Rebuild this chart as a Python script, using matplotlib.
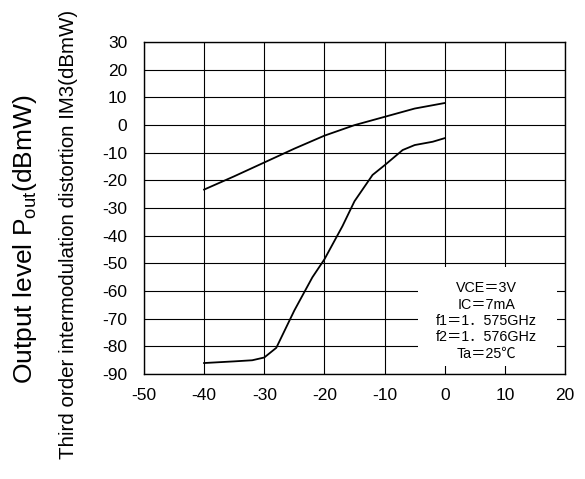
import matplotlib
matplotlib.use("Agg")
import matplotlib.pyplot as plt
from matplotlib.patches import Rectangle

plt.rcParams['font.family'] = ['Liberation Sans', 'DejaVu Sans']
plt.rcParams['axes.unicode_minus'] = False

# Data
pout_x = [-40, -35, -30, -25, -20, -15, -10, -5, 0]
pout_y = [-23.3, -18.5, -13.5, -8.5, -3.8, 0.0, 3.0, 6.0, 8.0]

im3_x = [-40, -35, -32, -30, -28, -25, -22, -20, -17, -15, -12, -10, -7, -5, -2, 0]
im3_y = [-86.0, -85.4, -85.0, -84.0, -80.5, -67.0, -55.0, -48.5, -36.5, -27.5,
         -18.0, -14.5, -9.0, -7.2, -6.0, -4.7]

x_ticks = [-50, -40, -30, -20, -10, 0, 10, 20]
y_ticks = [30, 20, 10, 0, -10, -20, -30, -40, -50, -60, -70, -80, -90]

note_lines = ["VCE＝3V", "IC＝7mA", "f1＝1．575GHz", "f2＝1．576GHz", "Ta＝25℃"]

fig = plt.figure(figsize=(5.85, 4.79), dpi=100)
ax = fig.add_axes([0.246, 0.219, 0.720, 0.693])
ax.set_xlim(-50, 20)
ax.set_ylim(-90, 30)
ax.set_xticks(x_ticks)
ax.set_yticks(y_ticks)
ax.grid(True, color='black', linewidth=0.8)
ax.set_axisbelow(True)
for s in ax.spines.values():
    s.set_linewidth(1.0)
ax.tick_params(length=0, labelsize=12.5)
ax.tick_params(axis='y', pad=12)
ax.tick_params(axis='x', pad=10)

ax.plot(pout_x, pout_y, color='black', linewidth=1.3, zorder=3)
ax.plot(im3_x, im3_y, color='black', linewidth=1.3, zorder=3)

# white box for conditions
ax.add_patch(Rectangle((-4.4, -87.2), 23.1, 36.0, facecolor='white',
                       edgecolor='none', zorder=2))
ax.text(6.9, -70.8, "\n".join(note_lines), ha='center', va='center',
        fontsize=10.3, linespacing=1.22, zorder=4,
        family=['Liberation Sans', 'Noto Sans CJK JP'])

fig.text(0.043, 0.50, r"Output level P$_{\mathregular{out}}$(dBmW)", rotation=90,
         ha='center', va='center', fontsize=19)
fig.text(0.117, 0.51, "Third order intermodulation distortion IM3(dBmW)",
         rotation=90, ha='center', va='center', fontsize=14.8)

fig.savefig("out.png", dpi=100)
